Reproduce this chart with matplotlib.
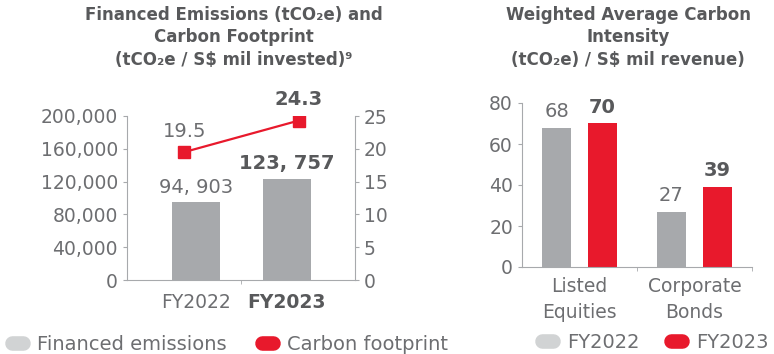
import numpy as np
import matplotlib
matplotlib.use("Agg")
from matplotlib import pyplot as plt
from matplotlib.lines import Line2D

plt.rcParams['font.family'] = ['DejaVu Sans']

GREY = '#a7a9ac'
GREY_LIGHT = '#d1d3d4'
RED = '#e8192c'
TXT = '#6d6e71'
DARK = '#58595b'
SPINE = '#a7a9ac'

# financed emissions / carbon footprint
years = ['FY2022', 'FY2023']
financed = [94903, 123757]
financed_labels = ['94, 903', '123, 757']
footprint = [19.5, 24.3]

# weighted average carbon intensity
sectors = ['Listed\nEquities', 'Corporate\nBonds']
waci_2022 = [68, 27]
waci_2023 = [70, 39]

fig = plt.figure(figsize=(7.74, 3.54), dpi=100)

def style_axis(ax):
    for s in ['top', 'right']:
        ax.spines[s].set_visible(False)
    for s in ['left', 'bottom']:
        ax.spines[s].set_color(SPINE)
        ax.spines[s].set_linewidth(0.8)
    ax.tick_params(colors=SPINE, labelcolor=TXT, labelsize=13.5, length=3, width=0.8)

# ---- left chart ----
ax = fig.add_axes([127/774, 74/354, 228/774, 164/354])
style_axis(ax)
x = np.arange(len(years))
ax.bar(x, financed, width=0.53, color=GREY)
ax.set_xlim(-0.76, 1.75)
ax.set_ylim(0, 200000)
ax.set_yticks([0, 40000, 80000, 120000, 160000, 200000])
ax.set_yticklabels([f'{v:,}' for v in ax.get_yticks().astype(int)])
ax.set_xticks(x)
ax.set_xticklabels(years)
ax.tick_params(axis='x', length=0, pad=9)
ax.set_xticks([0.5], minor=True)
ax.tick_params(axis='x', which='minor', length=3, color=SPINE)
ax.get_xticklabels()[1].set_fontweight('bold')
ax.get_xticklabels()[1].set_color(DARK)
for i, (v, s) in enumerate(zip(financed, financed_labels)):
    bold = i == 1
    ax.annotate(s, (x[i], v), xytext=(0, 4), textcoords='offset points',
                ha='center', va='bottom', fontsize=14,
                fontweight='bold' if bold else 'normal',
                color=DARK if bold else TXT)

ax2 = ax.twinx()
ax2.set_ylim(0, 25)
ax2.set_yticks([0, 5, 10, 15, 20, 25])
for s in ['top', 'left', 'bottom']:
    ax2.spines[s].set_visible(False)
ax2.spines['right'].set_color(SPINE)
ax2.spines['right'].set_linewidth(0.8)
ax2.tick_params(colors=SPINE, labelcolor=TXT, labelsize=13.5, length=3, width=0.8)
line_x = 0.5 + (x - 0.5) * 1.26
ax2.plot(line_x, footprint, color=RED, lw=1.6, marker='s', markersize=9)
for i, v in enumerate(footprint):
    bold = i == 1
    ax2.annotate(f'{v}', (line_x[i], v), xytext=(0, 8), textcoords='offset points',
                 ha='center', va='bottom', fontsize=14,
                 fontweight='bold' if bold else 'normal',
                 color=DARK if bold else TXT)

fig.text(234/774, 1 - 37.5/354,
         'Financed Emissions (tCO\u2082e) and\nCarbon Footprint\n(tCO\u2082e / S$ mil invested)\u2079',
         ha='center', va='center', fontsize=12, fontweight='bold', color=DARK,
         linespacing=1.3)

# ---- right chart ----
bx = fig.add_axes([522/774, 87/354, 230/774, 164/354])
style_axis(bx)
xs = np.arange(len(sectors))
bx.bar(xs - 0.2, waci_2022, width=0.245, color=GREY)
bx.bar(xs + 0.2, waci_2023, width=0.245, color=RED)
bx.set_xlim(-0.5, 1.5)
bx.set_ylim(0, 80)
bx.set_yticks([0, 20, 40, 60, 80])
bx.set_xticks(xs)
bx.set_xticklabels(sectors, linespacing=1.5)
bx.tick_params(axis='x', length=0, pad=7)
bx.set_xticks([0.5, 1.5], minor=True)
bx.tick_params(axis='x', which='minor', length=3, color=SPINE)
for i in range(len(sectors)):
    bx.annotate(str(waci_2022[i]), (xs[i] - 0.2, waci_2022[i]), xytext=(0, 5),
                textcoords='offset points', ha='center', va='bottom',
                fontsize=14, color=TXT)
    bx.annotate(str(waci_2023[i]), (xs[i] + 0.2, waci_2023[i]), xytext=(0, 5),
                textcoords='offset points', ha='center', va='bottom',
                fontsize=14, fontweight='bold', color=DARK)

fig.text(628/774, 1 - 37.5/354,
         'Weighted Average Carbon\nIntensity\n(tCO\u2082e) / S$ mil revenue)',
         ha='center', va='center', fontsize=12, fontweight='bold', color=DARK,
         linespacing=1.3)

# ---- legends ----
def pill(c):
    return Line2D([0], [0], color=c, lw=10.5, solid_capstyle='round')

leg_kw = dict(frameon=False, ncol=2, fontsize=14, handlelength=0.55,
              handletextpad=0.75, borderpad=0, borderaxespad=0,
              labelcolor=TXT)
fig.legend([pill(GREY_LIGHT), pill(RED)], ['Financed emissions', 'Carbon footprint'],
           loc='center left', bbox_to_anchor=(12/774, 1 - 344/354),
           columnspacing=1.8, **leg_kw)
fig.legend([pill(GREY_LIGHT), pill(RED)], ['FY2022', 'FY2023'],
           loc='center left', bbox_to_anchor=(542/774, 1 - 342/354),
           columnspacing=1.6, **leg_kw)

fig.savefig('out.png', dpi=100)
